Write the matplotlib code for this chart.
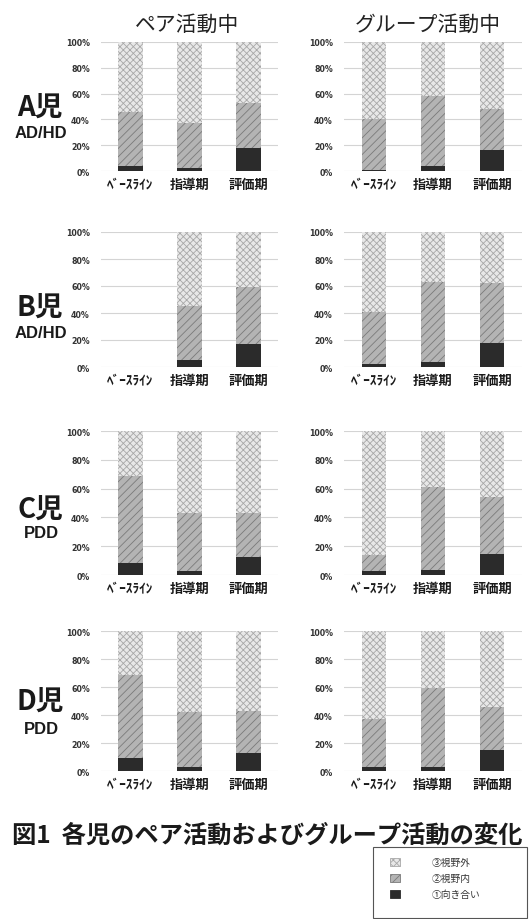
import numpy as np
import matplotlib
matplotlib.use("Agg")
import matplotlib.pyplot as plt
from matplotlib.patches import Rectangle

plt.rcParams['font.family'] = ['Noto Sans CJK JP', 'DejaVu Sans']
plt.rcParams['hatch.linewidth'] = 0.6

W, H = 532, 920

# categories (half-width kana as in the scan)
cats = ['ﾍﾞｰｽﾗｲﾝ', '指導期', '評価期']
children = ['A児', 'B児', 'C児', 'D児']
diag = ['AD/HD', 'AD/HD', 'PDD', 'PDD']
col_titles = ['ペア活動中', 'グループ活動中']

# ①向き合い / ②視野内 / ③視野外  (%), pair activity
pair_face = [[3.5, 2.5, 17.5], [0, 5.5, 17], [8.5, 2.5, 12.5], [9, 3, 13]]
pair_in = [[42.5, 34.5, 35.5], [0, 39.5, 42], [60.5, 40.5, 30.5], [59.5, 39.5, 30]]
pair_out = [[54, 63, 47], [0, 55, 41], [31, 57, 57], [31.5, 57.5, 57]]
# group activity
grp_face = [[1, 4, 16.5], [2, 3.5, 17.5], [3, 3.5, 14.5], [3, 3, 15]]
grp_in = [[39, 54, 31.5], [39, 59.5, 44.5], [11, 57.5, 39.5], [34, 56, 30.5]]
grp_out = [[60, 42, 52], [59, 37, 38], [86, 39, 46], [63, 41, 54.5]]

legend_labels = ['③視野外', '②視野内', '①向き合い']

# panel rows in pixels: (top=100%, bottom=0%)
rows_px = [(43, 172), (233, 368), (432, 576), (632, 772)]
cols_px = [(101, 177), (344, 178)]
label_y = [(108, 134), (308, 334), (510, 534), (702, 730)]

c_out, c_in, c_face = '#e8e8e8', '#b4b4b4', '#2b2b2b'
h_out, h_in = '#a8a8a8', '#7a7a7a'

fig = plt.figure(figsize=(W / 100, H / 100), dpi=100)


def fx(px):
    return px / W


def fy(py):
    return 1 - py / H


def draw(ax, face, inv, out):
    x = np.arange(3)
    face = np.array(face, float)
    inv = np.array(inv, float)
    out = np.array(out, float)
    bw = 0.41
    ax.bar(x, face, bw, color=c_face, linewidth=0, zorder=3)
    ax.bar(x, inv, bw, bottom=face, color=c_in, edgecolor=h_in, hatch='////',
           linewidth=0, zorder=3)
    ax.bar(x, out, bw, bottom=face + inv, color=c_out, edgecolor=h_out, hatch='xxxxx',
           linewidth=0, zorder=3)
    ax.set_xlim(-0.5, 2.5)
    ax.set_ylim(0, 100)
    ax.set_yticks(np.arange(0, 101, 20))
    ax.set_yticklabels([f'{v}%' for v in range(0, 101, 20)], fontsize=6.3,
                       family='DejaVu Sans', fontstretch='condensed',
                       fontweight='bold', color='#333333')
    ax.set_xticks(x)
    ax.set_xticklabels(cats, fontsize=9.5, fontweight='bold', color='#1a1a1a')
    ax.tick_params(length=0, axis='y', pad=8)
    ax.tick_params(length=0, axis='x', pad=4)
    ax.grid(axis='y', color='#d4d4d4', lw=0.8, zorder=0)
    for s in ax.spines.values():
        s.set_visible(False)
    ax.patch.set_alpha(0)


for i, (top, bot) in enumerate(rows_px):
    for j, (left, wid) in enumerate(cols_px):
        ax = fig.add_axes([fx(left), fy(bot), fx(wid), (bot - top) / H])
        if j == 0:
            draw(ax, pair_face[i], pair_in[i], pair_out[i])
        else:
            draw(ax, grp_face[i], grp_in[i], grp_out[i])
    fig.text(fx(40), fy(label_y[i][0]), children[i], fontsize=20, fontweight='bold',
             ha='center', va='center', color='#1a1a1a')
    fig.text(fx(41), fy(label_y[i][1]), diag[i], fontsize=12, fontweight='bold',
             family='Liberation Sans', ha='center', va='center', color='#1a1a1a')

fig.text(fx(187), fy(25), col_titles[0], fontsize=15, ha='center', va='center',
         color='#222222')
fig.text(fx(428), fy(25), col_titles[1], fontsize=15, ha='center', va='center',
         color='#222222')

fig.text(fx(12), fy(836), '図1  各児のペア活動およびグループ活動の変化', fontsize=17.5,
         fontweight='bold', ha='left', va='center', color='#1a1a1a')

# legend box
fig.patches.append(Rectangle((fx(373), fy(919)), fx(154), (919 - 848) / H,
                             transform=fig.transFigure, fill=False,
                             edgecolor='#555555', lw=0.8))
sw = [(c_out, h_out, 'xxxxx'), (c_in, h_in, '////'), (c_face, c_face, None)]
for k, (lab, (fc, hc, ht)) in enumerate(zip(legend_labels, sw)):
    yc = 863 + k * 16
    fig.patches.append(Rectangle((fx(390), fy(yc + 4)), fx(10), 8 / H,
                                 transform=fig.transFigure, facecolor=fc,
                                 edgecolor=hc, hatch=ht, lw=0.6))
    fig.text(fx(432), fy(yc), lab, fontsize=7, ha='left', va='center', color='#333333')

fig.savefig('out.png', dpi=100)
